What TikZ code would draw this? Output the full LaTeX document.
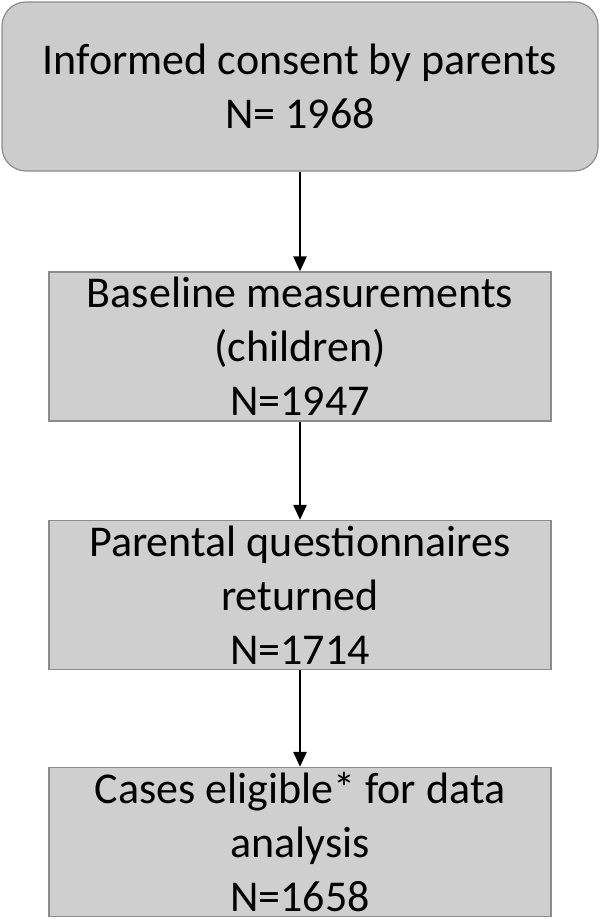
\documentclass[tikz,border=0pt]{standalone}
\usepackage{fontspec}
\setmainfont{Carlito}
\usetikzlibrary{arrows.meta}

\tikzset{
    flowbox/.style={draw=black!45, fill=black!19, line width=1.2pt, align=center,
        minimum width=502pt, minimum height=149pt, inner sep=0pt,
        font=\fontsize{44}{54}\selectfont},
    flowarrow/.style={-{Triangle[length=15pt, width=13pt]}, line width=2.6pt}
}

\begin{document}
\begin{tikzpicture}[x=1pt, y=-1pt]
        \useasboundingbox (0, 0) rectangle (600, 919);

        \node[flowbox, rounded corners=24pt, minimum width=596pt, minimum height=169pt,
            fill=black!20] (consent) at (300, 86.5)
            {Informed consent by parents\\N= 1968};

        \node[flowbox] (baseline) at (300, 346.5)
            {Baseline measurements\\(children)\\N=1947};
        \node[flowbox] (questionnaire) at (300, 595)
            {Parental questionnaires\\returned\\N=1714};
        \node[flowbox] (eligible) at (300, 842)
            {Cases eligible* for data\\analysis\\N=1658};

        \draw[flowarrow] (consent) -- (baseline);
        \draw[flowarrow] (baseline) -- (questionnaire);
        \draw[flowarrow] (questionnaire) -- (eligible);

    \end{tikzpicture}
\end{document}
